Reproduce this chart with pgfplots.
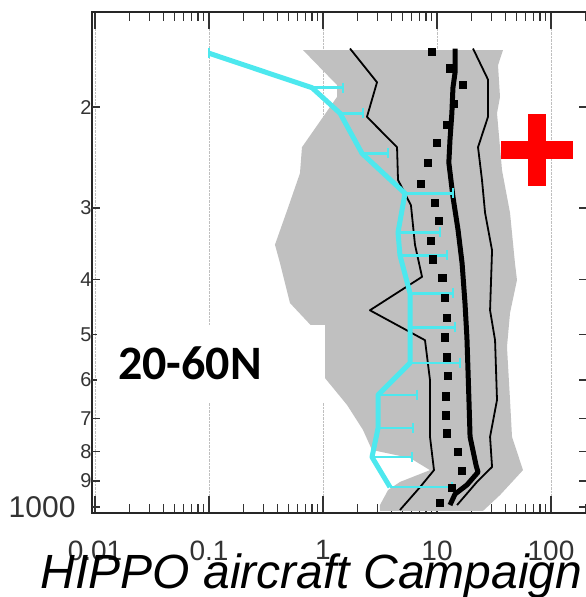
\documentclass[border=0pt]{standalone}
\usepackage{pgfplots}
\pgfplotsset{compat=1.18}
\usepackage{fontspec}
\setmainfont{Liberation Sans}
\newfontfamily\calib{Carlito}
\definecolor{cy}{RGB}{77,232,238}
\definecolor{shade}{RGB}{192,192,192}
\pgfplotsset{ebar/.style={cy, line width=2.6pt, forget plot}}
\begin{document}
\begin{tikzpicture}
\begin{axis}[name=ax,
  scale only axis, width=495pt, height=501pt,
  xmode=log, ymode=log, y dir=reverse,
  xmin=0.00941, xmax=206.9, ymin=136.4, ymax=1024.4,
  xtick={0.01,0.1,1,10,100}, xticklabels={0.01,0.1,1,10,100},
  minor xtick={0.02,0.03,0.04,0.05,0.06,0.07,0.08,0.09,0.2,0.3,0.4,0.5,0.6,0.7,0.8,0.9,2,3,4,5,6,7,8,9,20,30,40,50,60,70,80,90,200},
  ytick=\empty,
  extra y ticks={200,300,400,500,600,700,800,900,1000},
  extra y tick labels={2,3,4,5,6,7,8,9,{\fontsize{30}{30}\selectfont 1000\hspace*{16pt}}},
  extra y tick style={major tick length=8pt},
  yminorticks=false,
  xmajorgrids, grid style={densely dotted, black!25, line width=0.8pt},
  major tick length=17pt, minor tick length=9pt,
  tick style={black!80, line width=1.3pt},
  axis line style={black!85, line width=2pt},
  xticklabel style={font=\fontsize{28}{28}\selectfont, text=black!80, yshift=-24pt},
  yticklabel style={font=\fontsize{20}{20}\selectfont, text=black!80, xshift=3pt},
]
% shaded range
\addplot[fill=shade, draw=none] coordinates {
 (0.668,159)(1.327,183)(1.327,192)(0.654,235)(0.628,261)(0.493,300)(0.379,348)(0.42,375)(0.513,440)
 (1.0,507)(1.04,595)(1.624,663)(2.24,733)(2.69,795)(5.8,821)(8.68,862)(4.73,904)(3.72,934)(3.16,992)(3.16,1016)
 (25.3,1016)(35.7,953)(56.8,862)(45.5,754)(43.7,650)(41.1,525)(43.7,458)(50.3,401)(48.3,375)(43.7,306)
 (37.2,258)(33.6,205)(35.7,192)(34.3,169)(37.9,159)} -- cycle;
% label box
\fill[white] (axis cs:0.0104,481) rectangle (axis cs:1.041,658);
\node[anchor=base west, inner sep=0pt, font=\calib\bfseries\fontsize{48}{48}\selectfont] at (axis cs:0.0159,598) {20-60N};
% thin black lines
\addplot[black, line width=1.8pt, line join=round] coordinates {
 (1.725,158)(2.977,181)(2.43,208)(4.46,235)(4.55,268)(5.91,297)(6.41,348)(7.39,396)(2.58,453)(7.85,511)
 (8.68,600)(8.68,754)(9.41,862)(7.1,923)(4.73,1012)};
\addplot[black, line width=1.8pt, line join=round] coordinates {
 (20.7,158)(28.0,179)(28.0,208)(22.9,235)(24.8,268)(26.4,306)(30.4,356)(29.2,453)(32.3,511)(33.6,650)
 (29.2,754)(30.4,851)(22.4,904)(15.0,992)};
% thick black line
\addplot[black, line width=5pt, line join=round] coordinates {
 (14.4,158)(14.4,174)(13.8,185)(13.5,205)(13.0,228)(12.7,250)(13.8,287)(15.3,328)(16.6,375)(17.6,440)
 (18.3,505)(18.7,576)(19.1,658)(19.5,754)(22.0,845)(22.9,869)(18.3,915)(14.4,949)(13.0,992)};
% cyan mean profile
\addplot[cy, line width=5pt, line join=round] coordinates {
 (0.1,161)(0.801,185)(1.41,205)(2.20,241)(5.24,283)(4.55,331)(4.73,363)(5.80,423)(5.80,485)(5.80,560)
 (3.04,637)(3.04,728)(2.69,818)(3.87,923)};
\addplot[ebar] coordinates {(0.801,185)(1.497,185)};
\addplot[ebar] coordinates {(1.41,205)(2.24,205)};
\addplot[ebar] coordinates {(2.20,241)(3.72,241)};
\addplot[ebar] coordinates {(5.24,283)(13.8,283)};
\addplot[ebar] coordinates {(4.55,331)(10.6,331)};
\addplot[ebar] coordinates {(4.73,363)(12.2,363)};
\addplot[ebar] coordinates {(5.80,423)(13.8,423)};
\addplot[ebar] coordinates {(5.80,485)(14.4,485)};
\addplot[ebar] coordinates {(5.80,560)(15.9,560)};
\addplot[ebar] coordinates {(3.04,637)(6.68,637)};
\addplot[ebar] coordinates {(3.04,728)(6.16,728)};
\addplot[ebar] coordinates {(2.69,818)(6.04,818)};
\addplot[ebar] coordinates {(3.87,923)(13.5,923)};
\addplot[cy, only marks, mark=|, mark size=5pt, mark options={line width=2.6pt}] coordinates {
 (0.1,161)(1.497,185)(2.24,205)(3.72,241)(13.8,283)(10.6,331)(12.2,363)(13.8,423)(14.4,485)(15.9,560)
 (6.68,637)(6.16,728)(6.04,818)(13.5,923)};
% dotted black (squares)
\addplot[black, only marks, mark=square*, mark size=3.6pt] coordinates {
 (9.04,160)(13.0,171)(16.9,183)(14.1,197)(12.2,215)(10.0,231)(8.34,250)(7.24,272)(9.6,294)(10.4,316)
 (8.86,342)(9.22,369)(11.1,398)(11.75,431)(12.2,467)(11.75,505)(12.2,547)(12.5,590)(12.0,640)(12.0,691)
 (12.2,743)(15.3,801)(16.6,865)(13.5,926)(10.6,984)};
% red plus
\fill[red] ([shift={(-36pt,-9pt)}]axis cs:75.4,238) rectangle ([shift={(36pt,9pt)}]axis cs:75.4,238);
\fill[red] ([shift={(-9pt,-36pt)}]axis cs:75.4,238) rectangle ([shift={(9pt,36pt)}]axis cs:75.4,238);
\end{axis}
\node[anchor=base, inner sep=0pt, font=\itshape\fontsize{48}{48}\selectfont] at ([shift={(219.5pt,-75pt)}]ax.south west) {HIPPO aircraft Campaign};
\pgfresetboundingbox
\path ([shift={(-92pt,-84pt)}]ax.south west) rectangle ([shift={(494pt,513pt)}]ax.south west);
\end{tikzpicture}
\end{document}
